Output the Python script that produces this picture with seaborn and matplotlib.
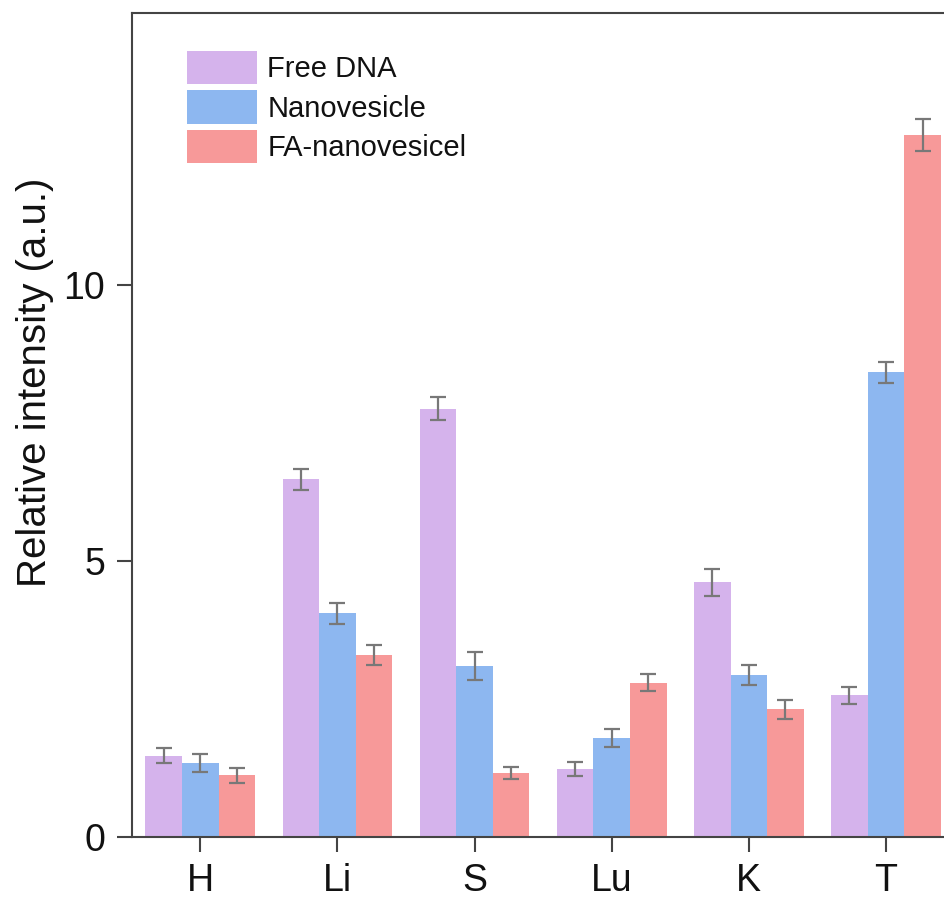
import matplotlib
matplotlib.use("Agg")
import matplotlib.pyplot as plt
import seaborn as sns
import pandas as pd
import numpy as np

categories = ["H", "Li", "S", "Lu", "K", "T"]
series_names = ["Free DNA", "Nanovesicle", "FA-nanovesicel"]
free_dna = [1.47, 6.48, 7.76, 1.23, 4.61, 2.56]
nanovesicle = [1.34, 4.05, 3.09, 1.79, 2.93, 8.42]
fa_nanovesicel = [1.11, 3.29, 1.16, 2.79, 2.31, 12.72]
free_dna_err = [0.14, 0.19, 0.21, 0.13, 0.24, 0.15]
nanovesicle_err = [0.16, 0.19, 0.25, 0.16, 0.18, 0.19]
fa_nanovesicel_err = [0.14, 0.18, 0.11, 0.15, 0.17, 0.29]
yticks = [0, 5, 10]

colors = ["#D5B3EC", "#8DB7F0", "#F79999"]

sns.set_style("ticks")
plt.rcParams['font.family'] = ['Liberation Sans', 'DejaVu Sans']
plt.rcParams['text.color'] = '#111111'
plt.rcParams['xtick.labelcolor'] = '#111111'
plt.rcParams['ytick.labelcolor'] = '#111111'
plt.rcParams['axes.labelcolor'] = '#111111'

rows = []
for name, vals in zip(series_names, [free_dna, nanovesicle, fa_nanovesicel]):
    for c, v in zip(categories, vals):
        rows.append({"Tissue": c, "Group": name, "Value": v})
df = pd.DataFrame(rows)

fig = plt.figure(figsize=(9.44, 8.98), dpi=100)
ax = fig.add_axes([0.1395, 0.0683, 0.8717, 0.9167])

sns.barplot(data=df, x="Tissue", y="Value", hue="Group", order=categories,
            hue_order=series_names, palette=colors, width=0.8, gap=0,
            errorbar=None, linewidth=0, saturation=1, ax=ax)

errs = [free_dna_err, nanovesicle_err, fa_nanovesicel_err]
for cont, err in zip(ax.containers, errs):
    xs = [b.get_x() + b.get_width() / 2 for b in cont]
    hs = [b.get_height() for b in cont]
    ax.errorbar(xs, hs, yerr=err, fmt="none", ecolor="#787878",
                elinewidth=1.6, capsize=5.8, capthick=1.6, zorder=5)

ax.set_xlim(-0.5, 5.5)
ax.set_ylim(0, 14.92)
ax.set_yticks(yticks)
ax.set_xlabel("")
ax.set_ylabel("Relative intensity (a.u.)", fontsize=29)
ax.yaxis.set_label_coords(-0.095, 0.552)

for s in ["left", "bottom", "top", "right"]:
    ax.spines[s].set_visible(True)
    ax.spines[s].set_linewidth(1.5)
    ax.spines[s].set_color("#444444")

ax.tick_params(axis="both", labelsize=27, length=11, width=1.5,
               color="#444444", pad=8, direction="out")

leg = ax.legend(loc="upper left", bbox_to_anchor=(0.0672, 0.955),
                frameon=False, fontsize=21, handlelength=2.4,
                handleheight=1.4, labelspacing=0.2, handletextpad=0.35,
                borderpad=0, borderaxespad=0)

fig.savefig("out.png", dpi=100)
